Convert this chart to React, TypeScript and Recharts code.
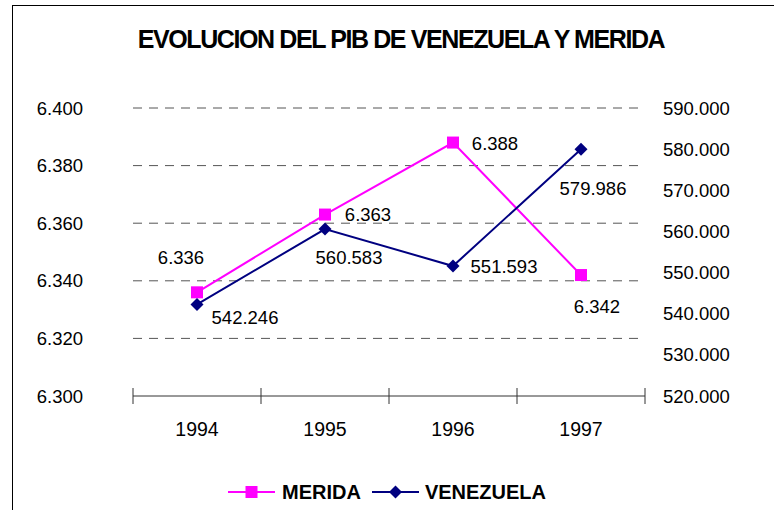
import React from 'react';
import { LineChart, Line, XAxis, YAxis, CartesianGrid, LabelList } from 'recharts';

const years = ['1994', '1995', '1996', '1997'];
const merida = [6336, 6363, 6388, 6342];
const venezuela = [542246, 560583, 551593, 579986];
const leftTicks = [6300, 6320, 6340, 6360, 6380, 6400];
const gridValues = [6320, 6340, 6360, 6380, 6400];
const rightTicks = [520000, 530000, 540000, 550000, 560000, 570000, 580000, 590000];
const xTicks = [0, 0.5, 1, 1.5, 2, 2.5, 3, 3.5, 4];

// label offsets (style only)
const meridaLabelOffsets = [[-16, -35], [43, 0], [42, 1], [16, 31]];
const venezuelaLabelOffsets = [[48, 13], [24, 28], [51, 0], [12, 39]];

const MAGENTA = '#FF00FF';
const NAVY = '#000080';
const FONT = '"Liberation Sans", Arial, sans-serif';

const data = years.map((year, i) => ({
  x: i + 0.5,
  year,
  merida: merida[i],
  venezuela: venezuela[i],
}));

const fmt = (n: number) => String(n).replace(/\B(?=(\d{3})+(?!\d))/g, '.');

const XTick = (props: any) => {
  const { x, y, payload } = props;
  const v = payload.value;
  if (Number.isInteger(v)) {
    return <line x1={x} x2={x} y1={y - 8} y2={y + 8} stroke="#333" strokeWidth={1} />;
  }
  return (
    <text x={x} y={y + 33} textAnchor="middle" dominantBaseline="central" fontFamily={FONT} fontSize={19.5} fill="#000">
      {years[Math.floor(v)]}
    </text>
  );
};

const SquareDot = (props: any) => {
  const { cx, cy, index } = props;
  return <rect key={`sq-${index}`} x={cx - 6} y={cy - 6} width={12} height={12} fill={MAGENTA} />;
};

const DiamondDot = (props: any) => {
  const { cx, cy, index } = props;
  return (
    <polygon
      key={`di-${index}`}
      points={`${cx},${cy - 6.5} ${cx + 6.5},${cy} ${cx},${cy + 6.5} ${cx - 6.5},${cy}`}
      fill={NAVY}
    />
  );
};

const makeLabel = (offsets: number[][]) => (props: any) => {
  const { x, y, value, index } = props;
  const [dx, dy] = offsets[index] || [0, 0];
  return (
    <text
      key={`lb-${index}`}
      x={x + dx}
      y={y + dy}
      textAnchor="middle"
      dominantBaseline="central"
      fontFamily={FONT}
      fontSize={18.5}
      fill="#000"
    >
      {fmt(value)}
    </text>
  );
};

const LegendIcon = ({ color, shape }: { color: string; shape: 'square' | 'diamond' }) => (
  <svg width={47} height={20} style={{ display: 'block' }}>
    <line x1={0} x2={47} y1={10} y2={10} stroke={color} strokeWidth={2} />
    {shape === 'square' ? (
      <rect x={17.5} y={4} width={12} height={12} fill={color} />
    ) : (
      <polygon points="23.5,3.5 30,10 23.5,16.5 17,10" fill={color} />
    )}
  </svg>
);

export default function App() {
  return (
    <div style={{ position: 'absolute', left: 0, top: 0, width: 774, height: 510, overflow: 'hidden', background: '#fff' }}>
      <div
        style={{
          position: 'absolute',
          left: 12,
          top: 5,
          width: 762,
          height: 505,
          borderTop: '1px solid #000',
          borderLeft: '1px solid #000',
          boxSizing: 'border-box',
        }}
      />
      <div
        style={{
          position: 'absolute',
          left: 0,
          top: 23,
          width: 802,
          textAlign: 'center',
          fontFamily: FONT,
          fontWeight: 'bold',
          fontSize: 25,
          letterSpacing: -1.4,
          lineHeight: '32px',
          color: '#000',
        }}
      >
        EVOLUCION DEL PIB DE VENEZUELA Y MERIDA
      </div>
      <div style={{ position: 'absolute', left: 0, top: 0 }}>
        <LineChart width={774} height={510} data={data} margin={{ top: 108, right: 0, bottom: 74, left: 0 }}>
          <CartesianGrid
            yAxisId="left"
            vertical={false}
            horizontalValues={gridValues}
            stroke="#555"
            strokeDasharray="9 7"
          />
          <XAxis
            dataKey="x"
            type="number"
            domain={[0, 4]}
            ticks={xTicks}
            interval={0}
            allowDecimals
            height={40}
            tickSize={0}
            tickMargin={0}
            tick={<XTick />}
            tickLine={false}
            axisLine={{ stroke: '#333', strokeWidth: 1 }}
          />
          <YAxis
            yAxisId="left"
            orientation="left"
            domain={[6300, 6400]}
            ticks={leftTicks}
            interval={0}
            width={133}
            tickSize={0}
            tickMargin={50}
            axisLine={false}
            tickLine={false}
            tickFormatter={fmt}
            tick={{ fontFamily: FONT, fontSize: 18.5, fill: '#000' }}
          />
          <YAxis
            yAxisId="right"
            orientation="right"
            domain={[520000, 590000]}
            ticks={rightTicks}
            interval={0}
            width={129}
            tickSize={0}
            tickMargin={18}
            axisLine={false}
            tickLine={false}
            tickFormatter={fmt}
            tick={{ fontFamily: FONT, fontSize: 18.5, fill: '#000', textAnchor: 'start' }}
          />
          <Line
            yAxisId="left"
            dataKey="merida"
            stroke={MAGENTA}
            strokeWidth={2}
            dot={<SquareDot />}
            activeDot={false}
            isAnimationActive={false}
          >
            <LabelList dataKey="merida" content={makeLabel(meridaLabelOffsets)} />
          </Line>
          <Line
            yAxisId="right"
            dataKey="venezuela"
            stroke={NAVY}
            strokeWidth={2}
            dot={<DiamondDot />}
            activeDot={false}
            isAnimationActive={false}
          >
            <LabelList dataKey="venezuela" content={makeLabel(venezuelaLabelOffsets)} />
          </Line>
        </LineChart>
      </div>
      <div
        style={{
          position: 'absolute',
          left: 0,
          top: 480,
          width: 774,
          display: 'flex',
          justifyContent: 'center',
          alignItems: 'center',
          fontFamily: FONT,
          fontWeight: 'bold',
          fontSize: 20,
          color: '#000',
          lineHeight: '24px',
        }}
      >
        <LegendIcon color={MAGENTA} shape="square" />
        <span style={{ marginLeft: 7, marginRight: 11 }}>MERIDA</span>
        <LegendIcon color={NAVY} shape="diamond" />
        <span style={{ marginLeft: 6 }}>VENEZUELA</span>
      </div>
    </div>
  );
}
